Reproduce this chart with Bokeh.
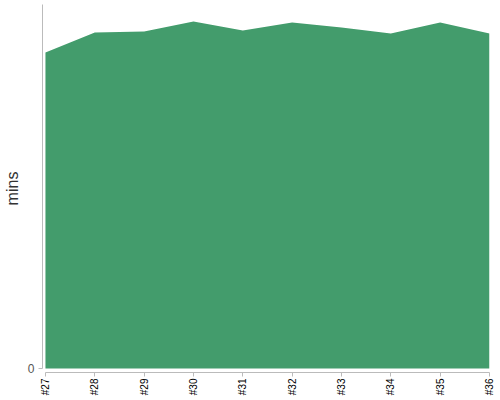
from math import pi
from bokeh.plotting import figure
from bokeh.models import ColumnDataSource, Range1d, FixedTicker
from bokeh.embed import file_html
from bokeh.resources import INLINE

# Data
builds = ["#27", "#28", "#29", "#30", "#31", "#32", "#33", "#34", "#35", "#36"]
mins = [316, 336, 337, 347, 338, 346, 341, 335, 346, 335]
y_max = 364

xs = list(range(len(builds)))
source = ColumnDataSource(dict(x=xs, y=mins))

p = figure(width=500, height=400, output_backend="svg", toolbar_location=None,
           x_range=Range1d(-0.06, len(builds) - 1),
           y_range=Range1d(-4, y_max),
           min_border_left=38, min_border_right=11, min_border_top=4,
           min_border_bottom=28)

p.varea(x="x", y1=0, y2="y", source=source, fill_color="#439c6c", fill_alpha=1.0)

p.grid.visible = False
p.outline_line_color = None
p.background_fill_color = "white"
p.border_fill_color = "white"

# x axis
xa = p.xaxis[0]
xa.ticker = FixedTicker(ticks=xs)
xa.major_label_overrides = {i: b for i, b in enumerate(builds)}
xa.major_label_orientation = pi / 2
xa.bounds = (0, len(builds) - 1)
xa.axis_line_color = "#bbbbbb"
xa.major_tick_line_color = "#bbbbbb"
xa.major_tick_out = 4
xa.major_tick_in = 0
xa.minor_tick_line_color = None
xa.major_label_text_font = "Liberation Sans"
xa.major_label_text_font_size = "10px"
xa.major_label_text_color = "#000000"
xa.major_label_standoff = 2

# y axis
ya = p.yaxis[0]
ya.ticker = FixedTicker(ticks=[0])
ya.bounds = (0, y_max)
ya.axis_line_color = "#bbbbbb"
ya.major_tick_line_color = "#bbbbbb"
ya.major_tick_out = 4
ya.major_tick_in = 0
ya.minor_tick_line_color = None
ya.major_label_text_font = "Liberation Sans"
ya.major_label_text_font_size = "12px"
ya.major_label_text_color = "#555555"
ya.major_label_standoff = 4
ya.axis_label = "mins"
ya.axis_label_text_font = "Liberation Sans"
ya.axis_label_text_font_style = "normal"
ya.axis_label_text_font_size = "16px"
ya.axis_label_text_color = "#333333"
ya.axis_label_standoff = 4

open("out.html", "w").write(file_html(p, INLINE))
